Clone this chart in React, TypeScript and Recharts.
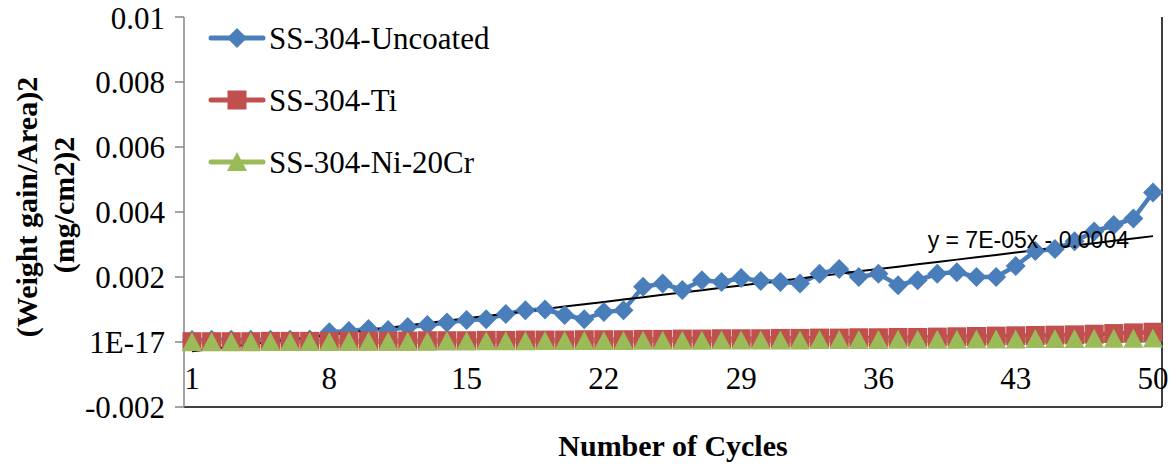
import React from 'react';
import { LineChart, Line, XAxis, YAxis, ReferenceLine, Legend } from 'recharts';

const cycles = [
  1, 2, 3, 4, 5, 6, 7, 8, 9, 10, 11, 12, 13, 14, 15, 16, 17, 18, 19, 20, 21, 22, 23, 24, 25,
  26, 27, 28, 29, 30, 31, 32, 33, 34, 35, 36, 37, 38, 39, 40, 41, 42, 43, 44, 45, 46, 47, 48, 49, 50,
];

const uncoated = [
  0.00006, 0.00007, 0.00007, 0.00007, 0.00007, 0.00007, 0.00008, 0.0003, 0.00034, 0.0004,
  0.00037, 0.00046, 0.00052, 0.0006, 0.00068, 0.0007, 0.00086, 0.00098, 0.001, 0.00083,
  0.0007, 0.00092, 0.00098, 0.0017, 0.0018, 0.0016, 0.0019, 0.00185, 0.00197, 0.00188,
  0.00185, 0.0018, 0.0021, 0.00225, 0.002, 0.0021, 0.00175, 0.0019, 0.0021, 0.00215,
  0.002, 0.002, 0.00234, 0.0028, 0.00286, 0.0031, 0.0034, 0.0036, 0.0038, 0.0046,
];

const ti = [
  0.00001, 0.00001, 0.00001, 0.00001, 0.00002, 0.00002, 0.00002, 0.00002, 0.00003, 0.00003,
  0.00003, 0.00003, 0.00004, 0.00004, 0.00004, 0.00005, 0.00005, 0.00006, 0.00006, 0.00006,
  0.00007, 0.00007, 0.00007, 0.00008, 0.00008, 0.00009, 0.00009, 0.0001, 0.0001, 0.0001,
  0.00011, 0.00011, 0.00012, 0.00012, 0.00013, 0.00013, 0.00014, 0.00014, 0.00015, 0.00016,
  0.00017, 0.00018, 0.00019, 0.0002, 0.00021, 0.00022, 0.00024, 0.00026, 0.00028, 0.0003,
];

const niCr = [
  0, 0, 0, 0, 0, 0, 0, 0, 0.00001, 0.00001,
  0.00001, 0.00001, 0.00001, 0.00002, 0.00002, 0.00002, 0.00002, 0.00002, 0.00003, 0.00003,
  0.00003, 0.00003, 0.00003, 0.00004, 0.00004, 0.00004, 0.00004, 0.00005, 0.00005, 0.00005,
  0.00005, 0.00005, 0.00006, 0.00006, 0.00006, 0.00006, 0.00007, 0.00007, 0.00007, 0.00007,
  0.00008, 0.00008, 0.00008, 0.00009, 0.00009, 0.00009, 0.0001, 0.0001, 0.0001, 0.00011,
];

const yTicks = [-0.002, 0, 0.002, 0.004, 0.006, 0.008, 0.01];
const xTicks = [1, 8, 15, 22, 29, 36, 43, 50];

const seriesNames = ['SS-304-Uncoated', 'SS-304-Ti', 'SS-304-Ni-20Cr'];
const trendText = 'y = 7E-05x - 0.0004';

// least squares fit of the uncoated series (Excel linear trendline)
const n = cycles.length;
const mx = cycles.reduce((a, b) => a + b, 0) / n;
const my = uncoated.reduce((a, b) => a + b, 0) / n;
let sxy = 0;
let sxx = 0;
cycles.forEach((c, i) => {
  sxy += (c - mx) * (uncoated[i] - my);
  sxx += (c - mx) * (c - mx);
});
const slope = sxy / sxx;
const intercept = my - slope * mx;

const data = cycles.map((c, i) => ({
  cycle: c,
  uncoated: uncoated[i],
  ti: ti[i],
  niCr: niCr[i],
  trend: intercept + slope * c,
}));

const BLUE = '#4a7ebb';
const RED = '#c0504d';
const GREEN = '#9bbb59';
const SERIF = '"Times New Roman", Times, "Liberation Serif", Tinos, "Noto Serif", "DejaVu Serif", serif';

function Marker({ cx, cy, shape, color }: any) {
  if (cx == null || cy == null) return null;
  if (shape === 'diamond') {
    const r = 10;
    return <polygon points={`${cx},${cy - r} ${cx + r},${cy} ${cx},${cy + r} ${cx - r},${cy}`} fill={color} />;
  }
  if (shape === 'square') {
    return <rect x={cx - 9.5} y={cy - 9.5} width={19} height={19} fill={color} />;
  }
  return <polygon points={`${cx},${cy - 10} ${cx + 10},${cy + 9} ${cx - 10},${cy + 9}`} fill={color} />;
}

const shapes: Record<string, string> = { uncoated: 'diamond', ti: 'square', niCr: 'triangle' };

function CycleTick({ x, y, payload }: any) {
  return (
    <text x={x} y={y - 18} textAnchor="middle" style={{ fontFamily: SERIF }} fontSize={31} fill="#000">
      {payload.value}
    </text>
  );
}

function LegendBox({ payload }: any) {
  const items = (payload || [])
    .filter((p: any) => p.dataKey !== 'trend')
    .sort((a: any, b: any) => seriesNames.indexOf(a.value) - seriesNames.indexOf(b.value));
  return (
    <div>
      {items.map((p: any) => (
        <div key={p.value} style={{ display: 'flex', alignItems: 'center', height: 62 }}>
          <svg width={58} height={24}>
            <line x1={3} y1={12} x2={55} y2={12} stroke={p.color} strokeWidth={5} strokeLinecap="round" />
            <Marker cx={29} cy={12} shape={shapes[p.dataKey]} color={p.color} />
          </svg>
          <span style={{ fontFamily: SERIF, fontSize: 31, color: '#000', marginLeft: 3, lineHeight: 1 }}>{p.value}</span>
        </div>
      ))}
    </div>
  );
}

function TrendLabel({ x, y, index }: any) {
  if (index !== data.length - 1) return null;
  return (
    <text x={x - 24} y={y + 12} textAnchor="end" style={{ fontFamily: '"Liberation Sans", Arial, sans-serif' }} fontSize={23} fill="#000">
      {trendText}
    </text>
  );
}

export default function App() {
  return (
    <div style={{ position: 'absolute', left: 0, top: 0, background: '#fff' }}>
      <LineChart width={1176} height={464} data={data} margin={{ top: 17, right: 0, bottom: 0, left: 0 }}>
        <XAxis
          xAxisId="bottom"
          dataKey="cycle"
          type="category"
          height={57}
          ticks={xTicks}
          interval={0}
          padding={{ left: 8, right: 9 }}
          axisLine={{ stroke: '#000', strokeWidth: 1.5 }}
          tickLine={false}
          tickSize={0}
          tickMargin={0}
          tick={<CycleTick />}
          label={{
            content: () => (
              <text x={673} y={456} textAnchor="middle" style={{ fontFamily: SERIF }} fontWeight="bold" fontSize={30} fill="#000">
                Number of Cycles
              </text>
            ),
          }}
        />
        <XAxis
          xAxisId="top"
          dataKey="cycle"
          orientation="top"
          height={0}
          tick={false}
          tickLine={false}
          padding={{ left: 8, right: 9 }}
          axisLine={{ stroke: '#000', strokeWidth: 1.5 }}
        />
        <YAxis
          yAxisId="left"
          width={184}
          domain={[-0.002, 0.01]}
          ticks={yTicks}
          allowDataOverflow
          axisLine={{ stroke: '#868686', strokeWidth: 1.5 }}
          tickLine={{ stroke: '#868686', strokeWidth: 1.5 }}
          tickSize={9}
          tickMargin={10}
          tickFormatter={(v: number) => (v === 0 ? '1E-17' : String(v))}
          tick={{ style: { fontFamily: SERIF }, fontSize: 31, fill: '#000' }}
          label={{
            content: () => (
              <g style={{ fontFamily: SERIF }} fontWeight="bold" fontSize={30} fill="#000">
                <text transform="translate(37,207) rotate(-90)" textAnchor="middle">(Weight gain/Area)2</text>
                <text transform="translate(74,205) rotate(-90)" textAnchor="middle">(mg/cm2)2</text>
              </g>
            ),
          }}
        />
        <YAxis
          yAxisId="right"
          orientation="right"
          width={14}
          domain={[-0.002, 0.01]}
          tick={false}
          tickLine={false}
          axisLine={{ stroke: '#000', strokeWidth: 1.5 }}
        />
        <ReferenceLine xAxisId="bottom" yAxisId="left" y={0} stroke="#868686" strokeWidth={1.5} />
        <Legend
          layout="vertical"
          align="center"
          verticalAlign="middle"
          content={<LegendBox />}
          wrapperStyle={{ left: 208, top: 7, width: 330 }}
        />
        <Line
          xAxisId="bottom"
          yAxisId="left"
          name={seriesNames[0]}
          dataKey="uncoated"
          stroke={BLUE}
          strokeWidth={4.5}
          dot={(p: any) => <Marker key={`u${p.index}`} cx={p.cx} cy={p.cy} shape="diamond" color={BLUE} />}
          isAnimationActive={false}
        />
        <Line
          xAxisId="bottom"
          yAxisId="left"
          name={seriesNames[1]}
          dataKey="ti"
          stroke={RED}
          strokeWidth={4.5}
          dot={(p: any) => <Marker key={`t${p.index}`} cx={p.cx} cy={p.cy} shape="square" color={RED} />}
          isAnimationActive={false}
        />
        <Line
          xAxisId="bottom"
          yAxisId="left"
          name={seriesNames[2]}
          dataKey="niCr"
          stroke={GREEN}
          strokeWidth={4.5}
          dot={(p: any) => <Marker key={`n${p.index}`} cx={p.cx} cy={p.cy} shape="triangle" color={GREEN} />}
          isAnimationActive={false}
        />
        <Line
          xAxisId="bottom"
          yAxisId="left"
          dataKey="trend"
          stroke="#000"
          strokeWidth={2}
          dot={false}
          legendType="none"
          label={<TrendLabel />}
          isAnimationActive={false}
        />
      </LineChart>
    </div>
  );
}
